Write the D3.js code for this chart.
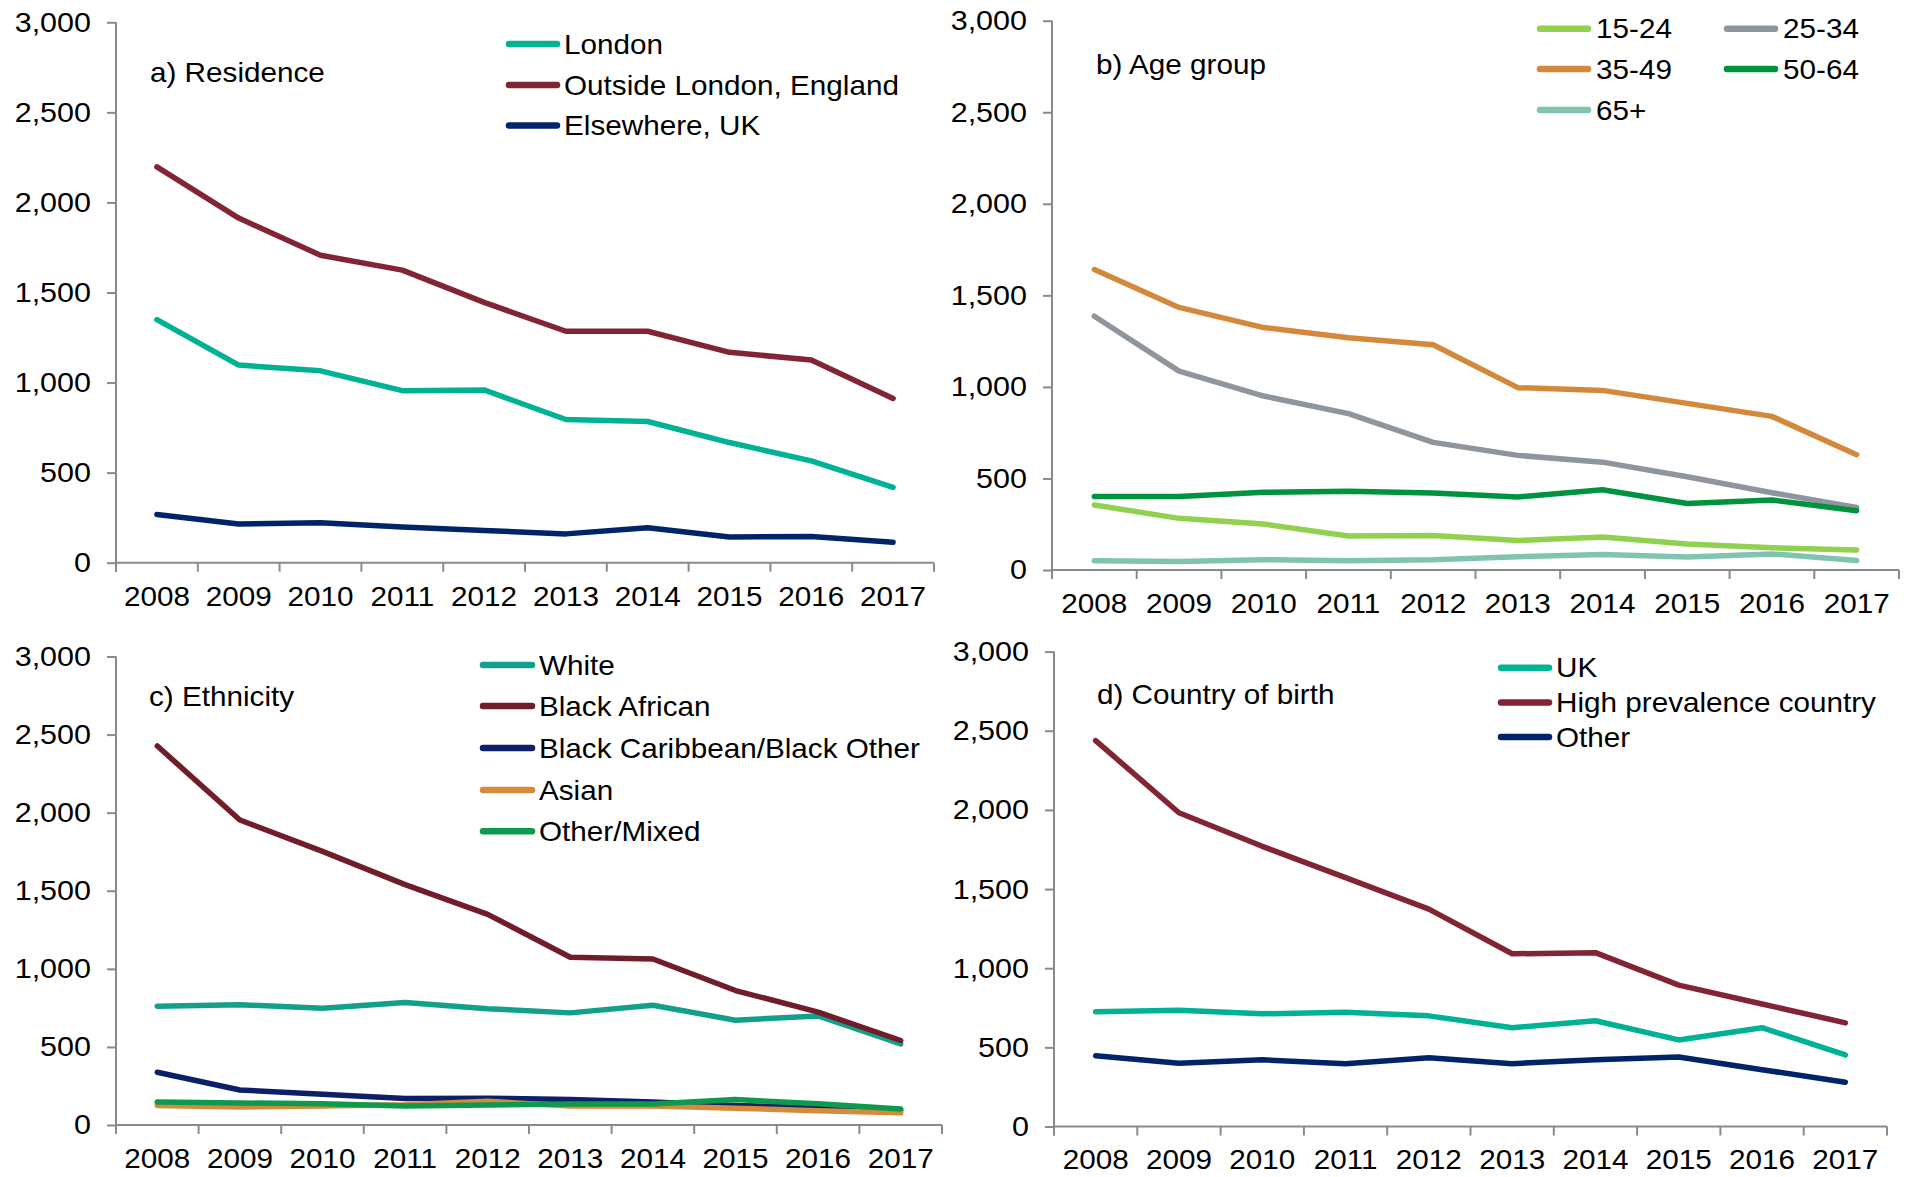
<!DOCTYPE html>
<html>
<head>
<meta charset="utf-8">
<script src="https://cdn.jsdelivr.net/npm/d3@7"></script>
<style>
  html, body { margin: 0; padding: 0; background: #ffffff; }
  svg { display: block; }
  text { font-family: "Liberation Sans", Arial, sans-serif; fill: #000; }
</style>
</head>
<body>
<svg id="chart" width="1906" height="1177"></svg>
<script>
// ---------------- DATA ----------------
const years = ["2008","2009","2010","2011","2012","2013","2014","2015","2016","2017"];
const yTicks = [0, 500, 1000, 1500, 2000, 2500, 3000];

// a) Residence
const residenceTitle = "a) Residence";
const residenceNames = ["London", "Outside London, England", "Elsewhere, UK"];
const londonValues = [1349, 1097, 1065, 955, 959, 795, 784, 667, 565, 418];
const outsideLondonValues = [2197, 1913, 1707, 1624, 1445, 1285, 1285, 1168, 1125, 912];
const elsewhereUKValues = [268, 215, 222, 198, 179, 160, 194, 143, 145, 113];

// b) Age group
const ageTitle = "b) Age group";
const ageNames = ["15-24", "25-34", "35-49", "50-64", "65+"];
const age1524Values = [355, 282, 251, 186, 188, 161, 180, 142, 121, 109];
const age2534Values = [1386, 1086, 950, 854, 697, 626, 589, 509, 422, 342];
const age3549Values = [1641, 1434, 1324, 1269, 1230, 996, 981, 910, 839, 630];
const age5064Values = [401, 401, 424, 430, 420, 399, 438, 363, 382, 324];
const age65Values = [50, 46, 56, 50, 56, 73, 84, 71, 88, 52];

// c) Ethnicity
const ethnicityTitle = "c) Ethnicity";
const ethnicityNames = ["White", "Black African", "Black Caribbean/Black Other", "Asian", "Other/Mixed"];
const whiteValues = [761, 770, 747, 785, 745, 718, 767, 671, 698, 519];
const blackAfricanValues = [2427, 1953, 1752, 1539, 1349, 1074, 1063, 861, 723, 541];
const blackCaribbeanValues = [338, 224, 197, 170, 172, 163, 148, 125, 112, 95];
const asianValues = [125, 116, 121, 130, 152, 121, 121, 107, 92, 78];
const otherMixedValues = [148, 141, 136, 121, 128, 134, 134, 163, 136, 103];

// d) Country of birth
const birthTitle = "d) Country of birth";
const birthNames = ["UK", "High prevalence country", "Other"];
const ukValues = [725, 734, 712, 721, 699, 624, 668, 547, 624, 452];
const highPrevValues = [2438, 1982, 1770, 1572, 1373, 1091, 1098, 893, 774, 655];
const otherBirthValues = [447, 399, 421, 397, 434, 397, 421, 439, 359, 280];

// ---------------- STYLE / LAYOUT ----------------
const palette = {
  teal: "#00b294", maroon: "#822433", navy: "#002469",
  lightGreen: "#92d050", grey: "#8e959c", orange: "#d4883c", green: "#00933e", paleTeal: "#80c4b0",
  white: "#12a08a", darkMaroon: "#701c29", darkNavy: "#0c1f68", asian: "#d58b3c", otherMixed: "#0e9a4c"
};

const panels = [
  { title: residenceTitle, x0: 116, x1: 934, yTop: 22.3, yZero: 562.7,
    titlePos: [150, 72],
    series: [
      { name: residenceNames[0], values: londonValues, color: palette.teal },
      { name: residenceNames[1], values: outsideLondonValues, color: palette.maroon },
      { name: residenceNames[2], values: elsewhereUKValues, color: palette.navy }
    ],
    legend: [[506, 560, 564, 44], [506, 560, 564, 85], [506, 560, 564, 125.5]] },
  { title: ageTitle, x0: 1052, x1: 1899, yTop: 20.7, yZero: 570,
    titlePos: [1096, 64.3],
    series: [
      { name: ageNames[0], values: age1524Values, color: palette.lightGreen },
      { name: ageNames[1], values: age2534Values, color: palette.grey },
      { name: ageNames[2], values: age3549Values, color: palette.orange },
      { name: ageNames[3], values: age5064Values, color: palette.green },
      { name: ageNames[4], values: age65Values, color: palette.paleTeal }
    ],
    legend: [[1537, 1591, 1596, 28.7], [1724, 1778, 1783, 28.7], [1537, 1591, 1596, 69],
             [1724, 1778, 1783, 69], [1537, 1591, 1596, 110]] },
  { title: ethnicityTitle, x0: 116, x1: 942, yTop: 656.5, yZero: 1125,
    titlePos: [149, 696.3],
    series: [
      { name: ethnicityNames[0], values: whiteValues, color: palette.white },
      { name: ethnicityNames[1], values: blackAfricanValues, color: palette.darkMaroon },
      { name: ethnicityNames[2], values: blackCaribbeanValues, color: palette.darkNavy },
      { name: ethnicityNames[3], values: asianValues, color: palette.asian },
      { name: ethnicityNames[4], values: otherMixedValues, color: palette.otherMixed }
    ],
    legend: [[480, 535, 539, 665], [480, 535, 539, 706], [480, 535, 539, 748],
             [480, 535, 539, 790], [480, 535, 539, 831.3]] },
  { title: birthTitle, x0: 1054, x1: 1887, yTop: 651.6, yZero: 1126.5,
    titlePos: [1097, 694.5],
    series: [
      { name: birthNames[0], values: ukValues, color: palette.teal },
      { name: birthNames[1], values: highPrevValues, color: palette.maroon },
      { name: birthNames[2], values: otherBirthValues, color: palette.navy }
    ],
    legend: [[1498, 1552, 1556, 667.7], [1498, 1552, 1556, 702.5], [1498, 1552, 1556, 737]] }
];

const FONT = 28;
const SX = 1.06;      // horizontal stretch of text (reference glyphs are slightly wide)
const SX_Y = 1.09;    // y tick labels
const AXIS_COLOR = "#8a8a8a";
const svg = d3.select("#chart");
const fmt = d3.format(",");

panels.forEach(p => {
  const g = svg.append("g");
  const x = d3.scaleBand().domain(years).range([p.x0, p.x1]).padding(0);
  const y = d3.scaleLinear().domain([0, 3000]).range([p.yZero, p.yTop]);

  // Y axis
  const yAxis = g.append("g").attr("transform", `translate(${p.x0},0)`)
    .call(d3.axisLeft(y).tickValues(yTicks).tickFormat(fmt).tickSizeInner(9).tickSizeOuter(0).tickPadding(16));
  yAxis.select(".domain").attr("stroke", AXIS_COLOR).attr("stroke-width", 2)
    .attr("d", `M0,${p.yTop}V${p.yZero + 9}`);
  yAxis.selectAll(".tick line").attr("stroke", AXIS_COLOR).attr("stroke-width", 2);
  yAxis.selectAll(".tick text").attr("font-size", FONT).attr("fill", "#000")
    .style("font-family", '"Liberation Sans", Arial, sans-serif')
    .attr("x", -25 / SX_Y)
    .attr("transform", `scale(${SX_Y},1)`);

  // X axis (labels at band centres)
  const xAxis = g.append("g").attr("transform", `translate(0,${p.yZero})`)
    .call(d3.axisBottom(x).tickSize(0).tickPadding(23));
  xAxis.select(".domain").attr("stroke", AXIS_COLOR).attr("stroke-width", 2)
    .attr("d", `M${p.x0},0H${p.x1}`);
  xAxis.selectAll(".tick text").attr("font-size", FONT).attr("fill", "#000")
    .style("font-family", '"Liberation Sans", Arial, sans-serif')
    .attr("transform", `scale(${SX},1)`);

  // X tick marks at band boundaries
  const boundaries = years.map(yr => x(yr)).concat([x.range()[1]]);
  xAxis.selectAll("line.bound").data(boundaries).enter().append("line")
    .attr("class", "bound")
    .attr("x1", d => d).attr("x2", d => d)
    .attr("y1", 0).attr("y2", 9)
    .attr("stroke", AXIS_COLOR).attr("stroke-width", 2);

  // Lines
  const line = d3.line()
    .x((d, i) => x(years[i]) + x.bandwidth() / 2)
    .y(d => y(d));
  p.series.forEach(s => {
    g.append("path")
      .datum(s.values)
      .attr("d", line)
      .attr("fill", "none")
      .attr("stroke", s.color)
      .attr("stroke-width", 5.5)
      .attr("stroke-linejoin", "round")
      .attr("stroke-linecap", "round");
  });

  // Title
  g.append("text")
    .attr("x", p.titlePos[0] / SX).attr("y", p.titlePos[1])
    .attr("transform", `scale(${SX},1)`)
    .attr("dy", "0.35em")
    .attr("font-size", FONT)
    .text(p.title);

  // Legend
  p.series.forEach((s, i) => {
    const L = p.legend[i];
    g.append("line")
      .attr("x1", L[0] + 3).attr("x2", L[1] - 3)
      .attr("y1", L[3]).attr("y2", L[3])
      .attr("stroke", s.color).attr("stroke-width", 6.5)
      .attr("stroke-linecap", "round");
    g.append("text")
      .attr("x", L[2] / SX).attr("y", L[3])
      .attr("transform", `scale(${SX},1)`)
      .attr("dy", "0.35em")
      .attr("font-size", FONT)
      .text(s.name);
  });
});
</script>
</body>
</html>
